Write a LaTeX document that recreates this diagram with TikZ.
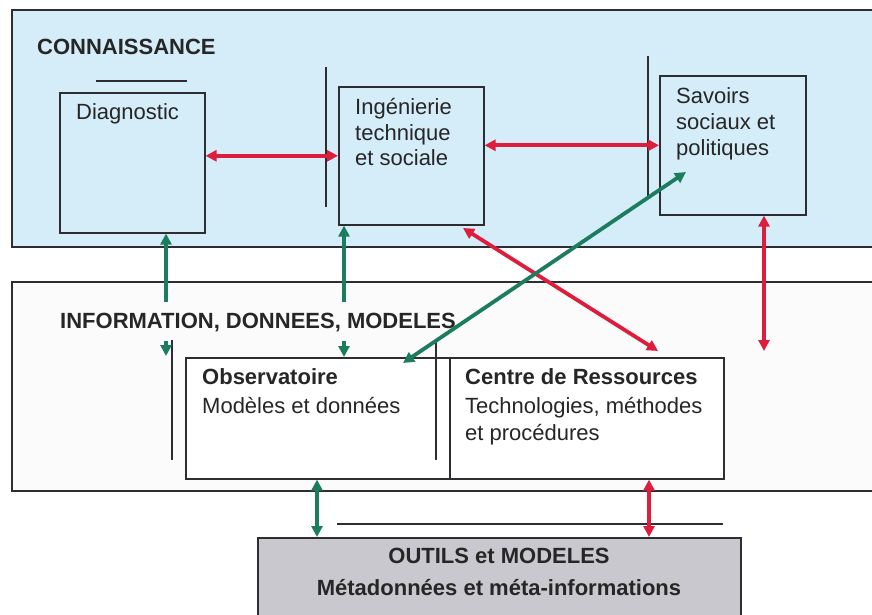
\documentclass[tikz,border=0pt]{standalone}
\usepackage{fontspec}
\setmainfont{Liberation Sans}
\usetikzlibrary{arrows.meta,calc}
\definecolor{panelblue}{RGB}{213,236,249}
\definecolor{panelwhite}{RGB}{251,251,251}
\definecolor{outilsgray}{RGB}{200,200,206}
\definecolor{linegray}{RGB}{45,45,50}
\definecolor{myred}{RGB}{222,28,60}
\definecolor{mygreen}{RGB}{28,124,94}
\begin{document}
\begin{tikzpicture}[x=1pt,y=-1pt,
  box/.style={draw=linegray, line width=1.6pt, rectangle, anchor=north west, inner sep=0pt},
  txt/.style={anchor=base west, inner sep=0pt, text=black!85, font=\fontsize{22}{25}\selectfont},
  btxt/.style={anchor=base west, inner sep=0pt, text=black!85, font=\fontsize{22}{25}\selectfont\bfseries},
  ctxt/.style={anchor=base, inner sep=0pt, text=black!85, font=\fontsize{22}{25}\selectfont\bfseries},
  thinline/.style={draw=linegray, line width=1.6pt},
  redarr/.style={draw=myred, line width=3.8pt, {Triangle[length=11pt,width=11pt]}-{Triangle[length=11pt,width=11pt]}},
  greenarr/.style={draw=mygreen, line width=3.8pt, {Triangle[length=11pt,width=11pt]}-{Triangle[length=11pt,width=11pt]}},
  greenup/.style={draw=mygreen, line width=3.8pt, -{Triangle[length=11pt,width=11pt]}},
]
\clip (0,0) rectangle (872,615);
\fill[white] (0,0) rectangle (872,615);

% panels
\node[box, fill=panelblue, minimum width=880pt, minimum height=237pt] (kpanel) at (11,9) {};
\node[box, fill=panelwhite, minimum width=880pt, minimum height=209pt] (ipanel) at (11,281) {};

% top panel
\node[btxt] (tconn) at (37,55) {CONNAISSANCE};
\node[box, minimum width=145pt, minimum height=140pt] (diag) at (59,92) {};
\node[box, minimum width=145pt, minimum height=138pt] (ing) at (338,86) {};
\node[box, minimum width=146pt, minimum height=139pt] (sav) at (659,75) {};
\coordinate (l1a) at (96,81);   \coordinate (l1b) at (187,81);
\coordinate (l2a) at (326,67);  \coordinate (l2b) at (326,207);
\coordinate (l3a) at (648,56);  \coordinate (l3b) at (648,197);
\draw[thinline] (l1a) -- (l1b);
\draw[thinline] (l2a) -- (l2b);
\draw[thinline] (l3a) -- (l3b);
\node[txt] (tdiag) at (76,120) {Diagnostic};
\node[txt] (ting1) at (355,114) {Ingénierie};
\node[txt] (ting2) at (355,140) {technique};
\node[txt] (ting3) at (355,165) {et sociale};
\node[txt] (tsav1) at (676,103) {Savoirs};
\node[txt] (tsav2) at (676,129) {sociaux et};
\node[txt] (tsav3) at (676,155) {politiques};

% middle panel
\node[btxt] (tinfo) at (60,328) {INFORMATION, DONNEES, MODELES};
\node[box, fill=white, minimum width=264pt, minimum height=121pt] (obs) at (185,357) {};
\node[box, fill=white, minimum width=274pt, minimum height=121pt] (cen) at (449,357) {};
\coordinate (l4a) at (172,340); \coordinate (l4b) at (172,460);
\coordinate (l5a) at (436,340); \coordinate (l5b) at (436,460);
\draw[thinline] (l4a) -- (l4b);
\draw[thinline] (l5a) -- (l5b);
\node[btxt] (tobs1) at (202,384) {Observatoire};
\node[txt] (tobs2) at (202,413) {Modèles et données};
\node[btxt] (tcen1) at (465,384) {Centre de Ressources};
\node[txt] (tcen2) at (465,413) {Technologies, méthodes};
\node[txt] (tcen3) at (465,440) {et procédures};

% bottom
\coordinate (l6a) at (337,524); \coordinate (l6b) at (723,524);
\draw[thinline] (l6a) -- (l6b);
\node[box, fill=outilsgray, minimum width=483pt, minimum height=100pt] (out) at (257,537) {};
\node[ctxt] (tout1) at (499,563) {OUTILS et MODELES};
\node[ctxt] (tout2) at (499,595) {Métadonnées et méta-informations};

% red arrows
\draw[redarr] (diag.east |- ing.west) -- (ing.west);
\draw[redarr] (ing.east |- sav.west) -- (sav.west);
\coordinate (r1) at (463,228);
\coordinate (r2) at (658,351);
\draw[redarr] (r1) -- (r2);
\coordinate (r3) at (764,351);
\draw[redarr] (sav.south -| r3) -- (r3);
\coordinate (r4) at (649,500);
\draw[redarr] (cen.south -| r4) -- (out.north -| r4);

% green arrows
\coordinate (g1) at (166,302);
\coordinate (g1b) at (166,341);
\coordinate (g1c) at (166,356);
\draw[greenup] (g1) -- (diag.south -| g1);
\draw[greenup] (g1b) -- (g1c);
\coordinate (g2) at (344,302);
\coordinate (g2b) at (344,341);
\draw[greenup] (g2) -- (ing.south -| g2);
\draw[greenup] (g2b) -- (obs.north -| g2b);
\coordinate (g3) at (403,363);
\coordinate (g4) at (686,172);
\draw[greenarr] (g3) -- (g4);
\coordinate (g5) at (317,500);
\draw[greenarr] (obs.south -| g5) -- (out.north -| g5);
\end{tikzpicture}
\end{document}
